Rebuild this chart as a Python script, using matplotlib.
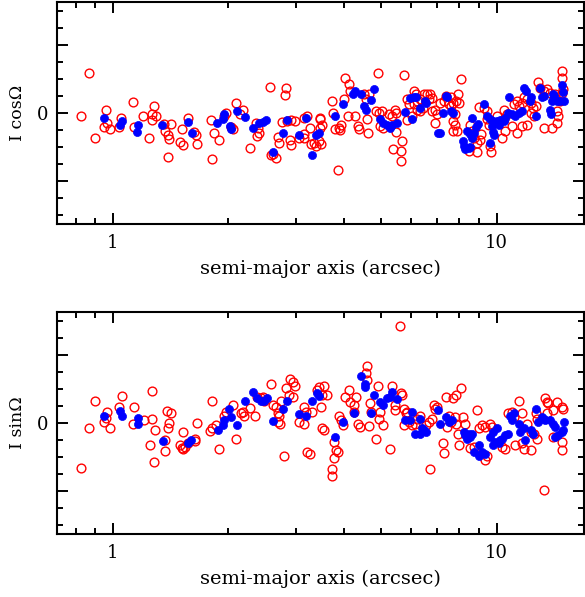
import matplotlib
matplotlib.use("Agg")
import matplotlib.pyplot as plt
from matplotlib.ticker import LogLocator, MultipleLocator, FuncFormatter, NullFormatter

# Semi-major axis (arcsec) and I cos(Omega) -- red open circles
cos_red_a = [0.827, 0.865, 0.896, 0.957, 0.946, 0.968, 0.980, 1.051, 1.039, 1.125,
             1.136, 1.201, 1.243, 1.283, 1.265, 1.294, 1.263, 1.362, 1.418, 1.367,
             1.390, 1.404, 1.396, 1.497, 1.521, 1.518, 1.567, 1.658, 1.625, 1.648,
             1.798, 1.833, 1.894, 1.811, 1.968, 1.953, 2.09, 2.18, 2.15, 2.05,
             2.03, 2.28, 2.36, 2.39, 2.41, 2.37, 2.57, 2.82, 2.81, 2.58,
             2.62, 2.66, 2.69, 2.71, 2.76, 2.85, 2.91, 2.98, 2.90, 2.92,
             3.06, 3.14, 3.15, 3.21, 3.15, 3.26, 3.29, 3.34, 3.39, 3.46,
             3.47, 3.47, 3.51, 3.45, 3.49, 3.73, 3.75, 3.80, 3.88, 3.92,
             3.90, 3.85, 4.03, 4.12, 4.16, 4.00, 4.10, 4.28, 4.36, 4.38,
             4.60, 4.62, 4.51, 4.65, 4.58, 4.91, 4.84, 4.93, 5.02, 5.07,
             4.98, 5.24, 5.34, 5.43, 5.47, 5.47, 5.75, 5.66, 5.36, 5.64,
             5.62, 5.85, 5.90, 6.08, 6.16, 6.08, 6.21, 6.33, 5.83, 6.02,
             6.21, 6.33, 6.43, 6.46, 6.59, 6.72, 6.79, 6.66, 6.79, 6.93,
             7.00, 6.93, 7.14, 7.29, 7.37, 7.53, 7.61, 7.69, 7.61, 7.69,
             7.86, 7.94, 7.98, 7.81, 7.69, 7.77, 7.89, 8.10, 8.54, 8.63,
             8.72, 8.90, 9.07, 9.12, 8.90, 8.49, 9.01, 9.25, 9.43, 9.43,
             9.53, 9.59, 9.67, 10.0, 10.43, 10.65, 10.47, 10.32, 10.54, 10.95,
             11.29, 11.65, 12.03, 11.07, 11.29, 11.41, 11.65, 11.77, 12.03, 12.28,
             12.42, 12.28, 12.50, 12.69, 12.86, 12.98, 13.26, 13.53, 13.77, 13.26,
             13.92, 14.35, 14.49, 14.35, 14.20, 14.49, 14.63, 14.78, 14.93, 14.78,
             14.78]
cos_red_v = [-0.04, 0.59, -0.36, 0.05, -0.20, -0.14, -0.23, -0.08, -0.21, 0.16,
             -0.20, -0.04, -0.36, 0.11, -0.01, -0.04, -0.11, -0.16, -0.16, -0.26,
             -0.32, -0.38, -0.65, -0.42, -0.47, -0.23, -0.08, -0.45, -0.28, -0.33,
             -0.10, -0.30, -0.40, -0.67, 0.00, -0.04, 0.14, 0.04, -0.01, -0.24,
             -0.21, -0.52, -0.14, -0.22, -0.29, -0.34, 0.38, 0.37, 0.26, -0.62,
             -0.60, -0.66, -0.35, -0.44, -0.13, -0.12, -0.11, -0.12, -0.40, -0.47,
             -0.37, -0.36, -0.31, -0.04, -0.08, -0.22, -0.45, -0.44, -0.49, -0.07,
             -0.22, -0.09, -0.17, -0.41, -0.46, 0.18, 0.00, -0.24, -0.22, -0.17,
             -0.25, -0.84, 0.52, 0.42, 0.32, 0.20, -0.04, -0.04, -0.19, -0.24,
             -0.09, -0.29, 0.28, 0.28, 0.20, 0.59, 0.03, 0.00, 0.03, -0.22,
             -0.19, -0.02, -0.04, 0.05, 0.00, -0.28, 0.56, -0.41, -0.53, -0.56,
             -0.71, 0.20, 0.13, 0.32, 0.28, 0.13, 0.17, 0.20, -0.11, -0.04,
             0.05, 0.03, 0.08, 0.28, 0.28, 0.28, 0.22, 0.20, 0.03, 0.05,
             -0.02, -0.14, 0.15, 0.18, 0.25, 0.13, 0.23, -0.26, 0.10, 0.15,
             0.18, 0.28, 0.15, -0.02, -0.12, -0.17, -0.26, 0.50, -0.17, -0.26,
             -0.36, -0.44, -0.39, -0.31, -0.57, -0.56, 0.09, 0.08, 0.03, -0.09,
             -0.17, -0.49, -0.57, -0.04, 0.05, -0.02, -0.09, -0.36, -0.26, -0.19,
             -0.29, -0.19, -0.17, 0.13, 0.18, 0.10, 0.15, 0.23, 0.20, 0.15,
             0.08, 0.00, -0.04, 0.10, 0.45, 0.37, 0.32, 0.35, 0.30, -0.22,
             -0.22, -0.14, -0.04, 0.03, 0.28, 0.23, 0.18, 0.30, 0.35, 0.62,
             0.51]

# I cos(Omega) -- blue filled circles
cos_blue_a = [0.950, 1.045, 1.058, 1.166, 1.154, 1.346, 1.574, 1.608, 1.872, 1.953,
              1.942, 2.014, 2.03, 2.11, 2.21, 2.32, 2.41, 2.46, 2.51, 2.62,
              2.78, 2.85, 3.06, 3.18, 3.31, 3.39, 3.45, 3.80, 3.98, 4.23,
              4.27, 4.44, 4.51, 4.56, 4.70, 4.80, 4.98, 5.07, 5.18, 5.27,
              5.34, 5.50, 5.77, 5.96, 6.08, 6.16, 6.03, 6.33, 6.49, 6.53,
              7.25, 7.39, 7.03, 7.11, 7.61, 7.44, 7.69, 8.63, 8.94, 8.86,
              8.37, 8.54, 8.72, 8.63, 8.17, 8.20, 8.28, 8.45, 8.54, 9.28,
              9.59, 9.43, 9.62, 9.81, 10.0, 10.22, 10.43, 10.54, 9.72, 9.81,
              9.84, 10.12, 10.74, 10.95, 11.17, 11.41, 11.65, 10.80, 11.82, 11.95,
              12.22, 12.28, 12.69, 12.94, 13.10, 13.26, 13.77, 13.84, 14.06, 14.13,
              13.92, 14.35, 14.63, 14.99, 14.85, 14.92]
cos_blue_v = [-0.08, -0.17, -0.12, -0.18, -0.28, -0.18, -0.13, -0.30, -0.15, -0.02,
              -0.09, -0.19, -0.24, 0.03, -0.06, -0.22, -0.15, -0.13, -0.11, -0.57,
              -0.30, -0.10, -0.33, -0.07, -0.62, -0.32, -0.30, -0.04, 0.13, 0.28,
              0.33, 0.28, 0.10, 0.04, 0.19, 0.35, -0.09, -0.14, -0.18, -0.22,
              -0.17, -0.14, 0.02, 0.22, 0.23, 0.24, -0.09, 0.08, 0.18, 0.14,
              0.00, 0.25, -0.29, -0.29, 0.03, 0.24, 0.00, -0.08, -0.16, -0.21,
              -0.26, -0.31, -0.29, -0.36, -0.41, -0.49, -0.53, -0.52, -0.50, 0.13,
              -0.44, -0.04, -0.09, -0.12, -0.12, -0.11, -0.12, -0.07, -0.19, -0.28,
              -0.32, -0.17, 0.00, -0.02, -0.04, 0.00, 0.03, 0.24, 0.37, 0.32,
              0.18, 0.23, -0.04, 0.36, 0.23, 0.25, 0.05, -0.01, 0.28, 0.25,
              0.17, 0.17, 0.17, 0.17, 0.41, 0.31]

# I sin(Omega) -- red open circles
sin_red_a = [0.826, 0.865, 0.896, 0.946, 0.968, 0.957, 0.980, 1.053, 1.039, 1.138,
             1.125, 1.208, 1.268, 1.263, 1.290, 1.246, 1.283, 1.381, 1.421, 1.404,
             1.396, 1.367, 1.367, 1.521, 1.497, 1.512, 1.527, 1.543, 1.567, 1.634,
             1.640, 1.658, 1.818, 1.793, 1.818, 1.855, 1.894, 1.953, 1.972, 2.05,
             2.09, 2.18, 2.20, 2.16, 2.28, 2.34, 2.38, 2.43, 2.46, 2.48,
             2.58, 2.62, 2.66, 2.69, 2.71, 2.69, 2.73, 2.75, 2.82, 2.89,
             2.95, 2.99, 2.87, 2.95, 2.80, 3.06, 3.14, 3.15, 3.18, 3.30,
             3.21, 3.26, 3.40, 3.45, 3.50, 3.50, 3.55, 3.49, 3.62, 3.55,
             3.77, 3.81, 3.85, 3.77, 3.73, 3.72, 3.88, 3.92, 3.98, 4.03,
             4.12, 4.16, 4.26, 4.31, 4.25, 4.36, 4.41, 4.60, 4.58, 4.60,
             4.66, 4.69, 4.72, 4.84, 4.91, 4.93, 4.96, 5.07, 5.27, 5.34,
             5.45, 5.42, 5.62, 5.67, 5.60, 5.74, 5.79, 5.85, 5.75, 5.90,
             6.02, 6.14, 6.21, 6.33, 6.53, 6.66, 6.79, 6.93, 6.86, 7.00,
             6.72, 7.25, 7.29, 7.37, 7.44, 7.61, 7.69, 7.86, 8.10, 7.53,
             7.77, 7.86, 7.94, 8.19, 8.27, 8.00, 8.51, 8.72, 8.90, 8.99,
             9.17, 9.34, 9.43, 9.34, 9.62, 9.72, 10.54, 10.32, 10.74, 10.95,
             11.07, 11.41, 11.65, 11.17, 11.65, 11.77, 12.28, 12.03, 12.28, 12.54,
             12.78, 12.69, 12.78, 13.33, 13.38, 13.53, 13.61, 13.53, 14.06, 14.35,
             14.78, 14.93, 14.06, 14.78, 14.78]
sin_red_v = [-0.66, -0.07, 0.33, 0.01, 0.16, 0.07, -0.07, 0.40, 0.23, 0.23,
             -0.02, 0.05, 0.47, 0.06, -0.10, -0.32, -0.58, 0.17, 0.14, 0.00,
             -0.07, -0.25, -0.41, -0.13, -0.33, -0.36, -0.38, -0.35, -0.30, -0.27,
             -0.23, 0.00, 0.33, -0.12, -0.08, -0.03, -0.38, 0.11, 0.16, 0.26,
             -0.23, 0.16, 0.11, 0.14, 0.22, 0.10, 0.38, 0.36, 0.38, 0.33,
             0.58, 0.26, 0.24, 0.14, 0.11, 0.01, -0.02, 0.33, 0.51, 0.65,
             0.60, 0.55, 0.41, 0.38, -0.48, 0.01, -0.01, 0.24, 0.16, 0.16,
             -0.43, -0.45, 0.48, 0.53, 0.41, -0.08, 0.55, 0.24, 0.41, -0.10,
             -0.28, -0.40, -0.42, -0.52, -0.67, -0.78, 0.11, 0.04, -0.03, 0.38,
             0.48, 0.31, 0.27, 0.38, 0.16, -0.01, -0.06, 0.83, 0.73, 0.63,
             -0.05, 0.29, 0.16, -0.23, 0.55, 0.06, 0.16, -0.03, -0.38, 0.55,
             0.26, 0.19, 0.44, 0.41, 1.43, 0.21, 0.14, 0.16, -0.03, 0.01,
             -0.03, -0.01, 0.06, 0.11, -0.03, 0.01, 0.06, 0.21, 0.26, 0.24,
             -0.67, -0.30, -0.44, 0.38, -0.06, 0.01, 0.36, 0.41, 0.52, 0.11,
             0.09, -0.01, -0.16, 0.09, -0.01, -0.33, -0.36, -0.35, 0.19, -0.08,
             -0.03, -0.06, -0.48, -0.55, -0.01, -0.06, -0.38, -0.35, 0.14, 0.16,
             0.09, 0.33, 0.14, -0.33, -0.30, -0.38, -0.40, -0.01, -0.13, -0.16,
             -0.23, 0.14, 0.06, -0.99, 0.36, 0.31, 0.29, 0.14, 0.19, 0.31,
             0.24, 0.21, -0.21, -0.28, -0.40]

# I sin(Omega) -- blue filled circles
sin_blue_a = [0.950, 1.045, 1.058, 1.166, 1.160, 1.349, 1.574, 1.597, 1.880, 1.942,
              1.953, 2.01, 2.03, 2.11, 2.21, 2.32, 2.38, 2.43, 2.48, 2.52,
              2.62, 2.78, 2.85, 3.06, 3.18, 3.31, 3.40, 3.44, 3.80, 3.97,
              4.25, 4.43, 4.53, 4.55, 4.70, 4.80, 4.98, 5.07, 5.18, 5.27,
              5.34, 5.50, 5.77, 5.94, 6.02, 6.33, 6.39, 6.46, 6.53, 6.14,
              6.33, 7.03, 7.14, 7.37, 7.53, 7.65, 8.20, 8.28, 8.37, 8.54,
              8.45, 8.63, 8.72, 8.99, 8.99, 9.17, 9.34, 9.62, 9.81, 10.0,
              9.91, 9.81, 10.12, 10.22, 10.32, 10.54, 10.74, 10.86, 11.07, 10.95,
              11.41, 11.53, 11.77, 11.88, 12.28, 12.42, 12.69, 12.86, 13.10, 13.26,
              13.38, 13.77, 14.06, 14.20, 14.20, 14.49, 14.78, 14.93, 14.99]
sin_blue_v = [0.10, 0.17, 0.11, 0.07, -0.02, -0.27, -0.30, -0.25, -0.10, -0.03,
              0.04, 0.21, 0.09, -0.03, 0.32, 0.46, 0.36, 0.33, 0.33, 0.36,
              0.03, 0.21, 0.32, 0.13, 0.10, 0.32, 0.44, 0.39, -0.21, 0.01,
              0.15, 0.69, 0.58, 0.53, 0.15, 0.41, 0.31, 0.26, 0.36, 0.38,
              0.46, 0.35, 0.04, 0.04, 0.16, 0.06, -0.08, -0.11, -0.13, -0.16,
              -0.16, 0.19, -0.01, 0.09, 0.01, 0.04, -0.13, -0.18, -0.23, -0.21,
              -0.16, -0.16, -0.43, -0.33, -0.48, -0.43, -0.45, -0.21, -0.13, -0.08,
              -0.28, -0.33, -0.30, -0.25, -0.23, -0.18, -0.16, 0.11, 0.14, 0.04,
              -0.01, -0.13, -0.08, -0.25, -0.11, -0.16, 0.21, 0.01, 0.09, 0.06,
              0.04, 0.04, -0.01, -0.06, -0.21, -0.18, -0.13, -0.11, 0.01]

ylabels = ["I cos\u03a9", "I sin\u03a9"]
xlabel = "semi-major axis (arcsec)"

plt.rcParams['font.family'] = ['DejaVu Serif', 'DejaVu Sans']

fig = plt.figure(figsize=(5.85, 5.97), dpi=100)
ax1 = fig.add_axes([57 / 585, 1 - 224 / 597, 527 / 585, 222 / 597])
ax2 = fig.add_axes([57 / 585, 1 - 534 / 597, 527 / 585, 222 / 597])

panels = [(ax1, cos_red_a, cos_red_v, cos_blue_a, cos_blue_v, ylabels[0]),
          (ax2, sin_red_a, sin_red_v, sin_blue_a, sin_blue_v, ylabels[1])]

for ax, ra, rv, ba, bv, lab in panels:
    ax.plot(ra, rv, 'o', mfc='none', mec='red', mew=1.0, ms=6.3, ls='none')
    ax.plot(ba, bv, 'o', mfc='blue', mec='blue', mew=0.5, ms=5.8, ls='none')
    ax.set_xscale('log')
    ax.set_xlim(0.715, 16.9)
    ax.set_ylim(-1.63, 1.63)
    ax.xaxis.set_major_locator(LogLocator(base=10, subs=[1.0]))
    ax.xaxis.set_minor_locator(LogLocator(base=10, subs=[2, 3, 4, 5, 6, 7, 8, 9]))
    ax.xaxis.set_major_formatter(FuncFormatter(lambda v, p: "%g" % v))
    ax.xaxis.set_minor_formatter(NullFormatter())
    ax.yaxis.set_major_locator(MultipleLocator(1.0))
    ax.yaxis.set_minor_locator(MultipleLocator(0.25))
    ax.yaxis.set_major_formatter(FuncFormatter(lambda v, p: "0" if abs(v) < 1e-9 else ""))
    ax.tick_params(which='both', direction='in', top=True, right=True, width=1.4)
    ax.tick_params(which='major', length=8, labelsize=13)
    ax.tick_params(which='minor', length=4.3)
    ax.tick_params(axis='x', which='major', pad=7)
    ax.tick_params(axis='y', which='major', pad=6)
    for s in ax.spines.values():
        s.set_linewidth(1.5)
    ax.set_xlabel(xlabel, fontsize=14, labelpad=6)
    ax.set_ylabel(lab, fontsize=12.5, labelpad=8)

fig.savefig("out.png", dpi=100)
